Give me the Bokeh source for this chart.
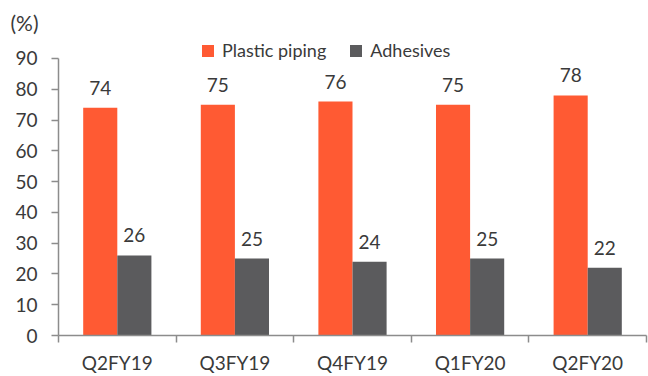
from bokeh.plotting import figure
from bokeh.models import (Range1d, FixedTicker, Legend, LegendItem, Title,
                          ColumnDataSource)
from bokeh.core.properties import value
from bokeh.embed import file_html
from bokeh.resources import INLINE

quarters = ["Q2FY19", "Q3FY19", "Q4FY19", "Q1FY20", "Q2FY20"]
plastic_piping = [74, 75, 76, 75, 78]
adhesives = [26, 25, 24, 25, 22]
y_ticks = [0, 10, 20, 30, 40, 50, 60, 70, 80, 90]

ORANGE = "#FF5A33"
GREY = "#5B5B5D"
TEXT = "#3A3A3A"
AXIS = "#8C8C8C"
FONT = "Lato"

idx = list(range(len(quarters)))
bar_w = 0.29
off = bar_w / 2

src_a = ColumnDataSource(dict(x=[i - off for i in idx], top=plastic_piping,
                              lab=[str(v) for v in plastic_piping]))
src_b = ColumnDataSource(dict(x=[i + off for i in idx], top=adhesives,
                              lab=[str(v) for v in adhesives]))

# unit note sits in the header strip, pulled left over the y axis
unit_title = Title(text="(%)", align="left", offset=-48, standoff=12,
                   text_font=FONT, text_font_size="21px",
                   text_font_style="normal", text_color=TEXT)

# 40 px header strip, y = 0 at 335 px and 90 at 58 px
p = figure(width=648, height=376, output_backend="svg", toolbar_location=None,
           title=unit_title, x_range=Range1d(-0.5, 4.5),
           y_range=Range1d(0, 95.84),
           min_border_left=58, min_border_right=2, min_border_top=40,
           min_border_bottom=41)
p.outline_line_color = None
p.grid.grid_line_color = None
p.background_fill_color = "white"
p.border_fill_color = "white"

r_a = p.vbar(x="x", top="top", width=bar_w, source=src_a, fill_color=ORANGE,
             line_color=None)
r_b = p.vbar(x="x", top="top", width=bar_w, source=src_b, fill_color=GREY,
             line_color=None)

# value labels above each bar
for src in (src_a, src_b):
    p.text(x="x", y="top", text="lab", source=src, text_align="center",
           text_baseline="bottom", y_offset=-13, text_font=value(FONT),
           text_font_size="19px", text_color=TEXT)

# y axis: 0-90 only
ya = p.yaxis[0]
ya.ticker = FixedTicker(ticks=y_ticks)
ya.bounds = (0, 90)
ya.axis_line_color = AXIS
ya.axis_line_width = 1.5
ya.major_tick_line_color = AXIS
ya.major_tick_line_width = 1.5
ya.major_tick_out = 7
ya.major_tick_in = 0
ya.minor_tick_line_color = None
ya.major_label_text_font = FONT
ya.major_label_text_font_size = "19px"
ya.major_label_text_color = TEXT
ya.major_label_standoff = 14

# x axis: labels at bar groups, ticks between groups
xa = p.xaxis[0]
xa.ticker = FixedTicker(ticks=idx, minor_ticks=[i - 0.5 for i in range(len(quarters) + 1)])
xa.major_label_overrides = {i: q for i, q in enumerate(quarters)}
xa.axis_line_color = AXIS
xa.axis_line_width = 1.5
xa.major_tick_line_color = None
xa.major_tick_out = 0
xa.major_tick_in = 0
xa.minor_tick_line_color = AXIS
xa.minor_tick_line_width = 1.5
xa.minor_tick_out = 7
xa.minor_tick_in = 0
xa.major_label_text_font = FONT
xa.major_label_text_font_size = "19px"
xa.major_label_text_color = TEXT
xa.major_label_standoff = 8

legend = Legend(items=[LegendItem(label="Plastic piping", renderers=[r_a]),
                       LegendItem(label="Adhesives", renderers=[r_b])],
                orientation="horizontal", location=(142, 274),
                glyph_width=15, glyph_height=15, label_standoff=7, spacing=22,
                padding=0, margin=0, border_line_color=None,
                background_fill_alpha=0, label_text_font=FONT,
                label_text_font_size="18px", label_text_color=TEXT,
                label_height=15)
p.add_layout(legend)

open("out.html", "w").write(file_html(p, INLINE))
